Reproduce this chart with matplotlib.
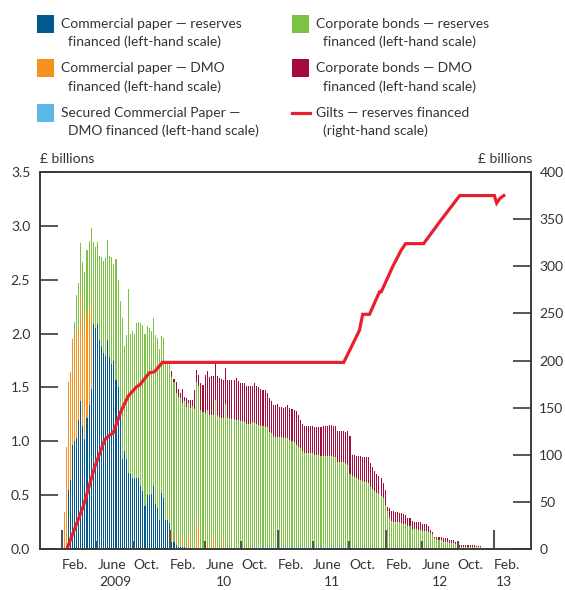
import numpy as np
import pandas as pd
import matplotlib
matplotlib.use('Agg')
import matplotlib.pyplot as plt
import matplotlib.dates as mdates
from matplotlib.patches import Rectangle
from matplotlib.lines import Line2D

plt.rcParams['font.family'] = ['Lato', 'DejaVu Sans']

# Weekly holdings, £ billions (left-hand scale), one value per week from Feb. 2009
cp_reserves = [0, 0, 0.55, 0.64, 0.97, 1.00, 1.03, 1.20, 1.37, 1.14,
               1.02, 1.22, 1.34, 1.49, 2.09, 2.05, 2.09, 1.94, 1.88, 1.82,
               1.79, 1.94, 1.78, 1.72, 1.75, 1.57, 1.50, 1.30, 0.84, 0.91,
               0.84, 0.71, 0.70, 0.66, 0.66, 0.66, 0.66, 0.585, 0.54, 0.40,
               0.50, 0.50, 0.51, 0.585, 0.42, 0.38, 0.27, 0.52, 0.47, 0.27,
               0.27, 0.24, 0.065, 0.065, 0.04, 0.02, 0.02, 0.02, 0.02] + [0.0] * 150

cp_dmo = [0.34, 0.95, 1.00, 1.00, 0.98, 0.96, 0.99, 0.85, 0.99, 1.00,
          1.00, 0.98, 0.88, 0.79] + [0.0] * 36 + \
         [0.03, 0, 0.10, 0, 0.08, 0, 0, 0.09, 0, 0,
          0.13, 0, 0.02, 0, 0.23, 0.19, 0, 0, 0, 0.04,
          0, 0, 0.13, 0, 0, 0, 0, 0.105] + [0.0] * 131

scp_dmo = [0.0] * 91 + [0.02] * 51 + [0.0] * 67

cb_reserves = [0, 0, 0, 0, 0, 0.15, 0.34, 0.42, 0.48, 0.52,
               0.55, 0.58, 0.64, 0.70, 0.76, 0.75, 0.76, 0.78, 0.83, 0.85,
               0.91, 0.93, 0.94, 0.99, 0.90, 1.12, 1.00, 1.00, 1.30, 0.97,
               1.15, 1.70, 1.30, 1.36, 1.34, 1.44, 1.45, 1.515, 1.54, 1.60,
               1.57, 1.55, 1.51, 1.555, 1.57, 1.58, 1.59, 1.46, 1.49, 1.48,
               1.45, 1.51, 1.435, 1.485, 1.33, 1.39, 1.38, 1.25, 1.35, 1.32,
               1.23, 1.31, 1.31, 1.30, 1.32, 1.32, 1.29, 1.27, 1.26, 1.25,
               1.24, 1.24, 1.11, 1.38, 1.24, 1.23, 1.22, 1.115, 1.35, 1.22,
               1.22, 1.21, 1.21, 1.20, 1.20, 1.19, 1.19, 1.18, 1.16, 1.16,
               1.16, 1.16, 1.15, 1.14, 1.13, 1.12, 1.12, 1.11, 1.11, 1.07,
               1.06, 1.03, 1.02, 1.02, 1.02, 1.02, 1.015, 1.01, 1.01, 0.99,
               0.98, 0.97, 0.95, 0.93, 0.915, 0.89, 0.87, 0.87, 0.87, 0.87,
               0.87, 0.85, 0.85, 0.85, 0.84, 0.84, 0.84, 0.84, 0.84, 0.84,
               0.835, 0.835, 0.79, 0.79, 0.79, 0.79, 0.78, 0.76, 0.68, 0.66,
               0.65, 0.635, 0.65, 0.64, 0.635, 0.625, 0.62, 0.61, 0.58, 0.56,
               0.54, 0.52, 0.51, 0.49, 0.47, 0.41, 0.35, 0.29, 0.26, 0.25,
               0.25, 0.25, 0.25, 0.24, 0.235, 0.23, 0.215, 0.21, 0.19, 0.185,
               0.185, 0.18, 0.175, 0.17, 0.165, 0.165, 0.16, 0.15, 0.14, 0.10,
               0.085, 0.08, 0.08, 0.068, 0.065, 0.065, 0.053, 0.053, 0.053, 0.05,
               0.05] + [0.015] * 11 + [0.005] * 7

cb_dmo = [0.0] * 52 + \
         [0.05, 0.03, 0.10, 0.08, 0.05, 0.13, 0.04, 0.08, 0.02, 0.07,
          0.05, 0.18, 0.11, 0.11, 0.25, 0.25, 0.36, 0.36, 0.36, 0.37,
          0.37, 0.37, 0.37, 0.36, 0.36, 0.35, 0.33, 0.35, 0.35, 0.36,
          0.36, 0.39, 0.36, 0.35, 0.35, 0.36, 0.35, 0.35, 0.35, 0.33,
          0.37, 0.35, 0.35, 0.35, 0.34, 0.35, 0.32, 0.31, 0.29, 0.29,
          0.30, 0.31, 0.28, 0.28, 0.275, 0.29, 0.31, 0.30, 0.30, 0.30,
          0.31, 0.29, 0.265, 0.25, 0.255, 0.25, 0.25, 0.255, 0.25, 0.26,
          0.26, 0.26, 0.27, 0.28, 0.28, 0.28, 0.29, 0.29, 0.285, 0.285,
          0.29, 0.29, 0.29, 0.29, 0.29, 0.32, 0.35, 0.19, 0.20, 0.21,
          0.21, 0.22, 0.22, 0.23, 0.235, 0.245, 0.22, 0.20, 0.18, 0.18,
          0.17, 0.165, 0.14, 0.14, 0.04, 0.095, 0.095, 0.10, 0.09, 0.09,
          0.08, 0.09, 0.09, 0.085, 0.075, 0.075, 0.07, 0.07, 0.07, 0.075,
          0.08, 0.06, 0.065, 0.065, 0.05, 0.025, 0.02, 0.015, 0.025, 0.03,
          0.03, 0.037, 0.04, 0.04, 0.032, 0.032, 0.027, 0.018, 0.018] + \
         [0.022] * 8 + [0.013] * 3 + [0.005] * 7

# Gilts - reserves financed, £ billions (right-hand scale)
gilt_dates = ['2009-02-18', '2009-04-14', '2009-05-23', '2009-06-26', '2009-07-13',
              '2009-07-24', '2009-08-21', '2009-09-13', '2009-10-11', '2009-10-22',
              '2009-11-24', '2009-12-11', '2010-01-07', '2011-09-12', '2011-11-04',
              '2011-11-15', '2011-12-08', '2012-01-11', '2012-01-17', '2012-02-25',
              '2012-03-24', '2012-04-08', '2012-06-08', '2012-08-01', '2012-10-08',
              '2013-02-02', '2013-02-10', '2013-02-21', '2013-03-06']
gilt_values = [0, 45, 87, 116, 121, 123, 147, 162, 172, 174,
               187, 188, 198, 198, 232, 249, 249, 273, 273, 300,
               317, 324, 324, 347, 375, 375, 367, 372, 375]

weeks = pd.date_range('2009-02-09', periods=len(cb_reserves), freq='7D')

c_cp_res = '#005A8F'
c_cp_dmo = '#F4911F'
c_scp = '#5DB8E8'
c_cb_res = '#7DC242'
c_cb_dmo = '#A50A3F'
c_gilt = '#E8202E'
c_text = '#333333'
c_axis = '#3a3a3a'

fig = plt.figure(figsize=(5.65, 5.9), dpi=100)
ax = fig.add_axes([40 / 565, 41 / 590, 491 / 565, 377 / 590])

series = [(scp_dmo, c_scp), (cp_reserves, c_cp_res), (cp_dmo, c_cp_dmo),
          (cb_reserves, c_cb_res), (cb_dmo, c_cb_dmo)]
bottom = np.zeros(len(weeks))
for vals, col in series:
    vals = np.array(vals, dtype=float)
    ax.bar(weeks, vals, width=3.6, bottom=bottom, color=col, linewidth=0, align='center')
    bottom = bottom + vals

ax.set_ylim(0, 3.5)
ax.set_xlim(mdates.date2num(pd.Timestamp('2008-11-19')), mdates.date2num(pd.Timestamp('2013-06-06')))
ax.set_yticks(np.arange(0, 3.51, 0.5))
ax.set_yticklabels(['%.1f' % v for v in np.arange(0, 3.51, 0.5)])

# x ticks: Feb. (tall), June and Oct. (short)
major = [pd.Timestamp('%d-02-01' % y) for y in range(2009, 2014)]
minor = [pd.Timestamp('%d-%02d-01' % (y, m)) for y in range(2009, 2013) for m in (6, 10)]
ax.set_xticks(major)
ax.set_xticklabels(['Feb.'] * len(major))
ax.set_xticks(minor, minor=True)
ax.set_xticklabels(['June' if t.month == 6 else 'Oct.' for t in minor], minor=True)
for lab in ax.get_xticklabels() + ax.get_xticklabels(minor=True):
    lab.set_ha('left')

ax.tick_params(axis='x', which='major', direction='in', length=14, width=1.5,
               color='#555555', labelsize=10, labelcolor=c_text, pad=7)
ax.tick_params(axis='x', which='minor', direction='in', length=6, width=1.5,
               color='#555555', labelsize=10, labelcolor=c_text, pad=7)
ax.tick_params(axis='y', direction='in', length=13, width=1.2, color=c_axis,
               labelsize=10, labelcolor=c_text, pad=7)

for s in ax.spines.values():
    s.set_color(c_axis)
    s.set_linewidth(1.2)

# year labels under the month labels
year_pos = ['2009-08-02', '2010-08-02', '2011-08-02', '2012-08-02', '2013-03-07']
year_txt = ['2009', '10', '11', '12', '13']
for d, t in zip(year_pos, year_txt):
    ax.text(pd.Timestamp(d), -0.087, t, transform=ax.get_xaxis_transform(),
            ha='center', va='center', fontsize=10, color=c_text, clip_on=False)

ax2 = ax.twinx()
ax2.plot(pd.to_datetime(gilt_dates), gilt_values, color=c_gilt, lw=2.3, solid_joinstyle='miter')
ax2.set_ylim(0, 400)
ax2.set_yticks(range(0, 401, 50))
ax2.tick_params(axis='y', direction='in', length=13, width=1.2, color=c_axis,
                labelsize=10, labelcolor=c_text, pad=6)
for s in ax2.spines.values():
    s.set_color(c_axis)
    s.set_linewidth(1.2)

fig.text(40 / 565, 1 - 159 / 590, '£ billions', ha='left', va='center', fontsize=10, color=c_text)
fig.text(532 / 565, 1 - 159 / 590, '£ billions', ha='right', va='center', fontsize=10, color=c_text)

# legend, drawn by hand in two columns
legend_items = [
    (37, 0, 'patch', c_cp_res, 'Commercial paper \u2014 reserves', 'financed (left-hand scale)'),
    (37, 1, 'patch', c_cp_dmo, 'Commercial paper \u2014 DMO', 'financed (left-hand scale)'),
    (37, 2, 'patch', c_scp, 'Secured Commercial Paper \u2014', 'DMO financed (left-hand scale)'),
    (292, 0, 'patch', c_cb_res, 'Corporate bonds \u2014 reserves', 'financed (left-hand scale)'),
    (292, 1, 'patch', c_cb_dmo, 'Corporate bonds \u2014 DMO', 'financed (left-hand scale)'),
    (292, 2, 'line', c_gilt, 'Gilts \u2014 reserves financed', '(right-hand scale)'),
]
W, H = 565.0, 590.0
for x0, row, kind, col, line1, line2 in legend_items:
    yc = 24 + 44.3 * row
    if kind == 'patch':
        fig.patches.append(Rectangle((x0 / W, 1 - (yc + 9) / H), 17 / W, 18 / H,
                                     transform=fig.transFigure, color=col, lw=0))
    else:
        fig.lines.append(Line2D([x0 / W, (x0 + 18) / W], [1 - yc / H, 1 - yc / H],
                                transform=fig.transFigure, color=col, lw=2.3))
    fig.text((x0 + 24) / W, 1 - yc / H, line1, ha='left', va='center', fontsize=10, color=c_text)
    fig.text((x0 + 31) / W, 1 - (yc + 18) / H, line2, ha='left', va='center', fontsize=10, color=c_text)

fig.savefig('out.png', dpi=100)
